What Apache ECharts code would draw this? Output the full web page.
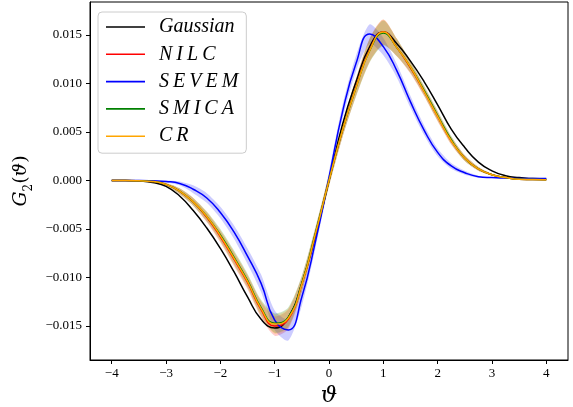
<!DOCTYPE html>
<html><head><meta charset="utf-8">
<script src="https://cdn.jsdelivr.net/npm/echarts@6/dist/echarts.min.js"></script>
<style>html,body{margin:0;padding:0;background:#fff}#c{width:573px;height:407px}</style>
</head><body><div id="c"></div>
<script>
const theta = [-4,-3.75,-3.5,-3.25,-3,-2.75,-2.5,-2.25,-2,-1.75,-1.5,-1.25,-1,-0.75,-0.5,-0.25,0,0.25,0.5,0.75,1,1.25,1.5,1.75,2,2.25,2.5,2.75,3,3.25,3.5,3.75,4];
const gaussian = [0,0,-0.00005,-0.0002,-0.0006,-0.0016,-0.0031,-0.0049,-0.0070,-0.0094,-0.0120,-0.0143,-0.0152,-0.0141,-0.0106,-0.0057,0,0.0058,0.0102,0.0138,0.0153,0.0141,0.0123,0.0102,0.0078,0.0053,0.0034,0.0019,0.0010,0.0005,0.0003,0.0002,0.00015];
const nilc  = [0,0,-0.00003,-0.0001,-0.0004,-0.0011,-0.0022,-0.0038,-0.0058,-0.0081,-0.0105,-0.0133,-0.0150,-0.0143,-0.0107,-0.0055,0,0.0052,0.0097,0.0135,0.0153,0.0137,0.0116,0.0092,0.0066,0.0041,0.0023,0.0012,0.0006,0.0003,0.00012,0.0001,0.00007];
const sevem = [0,0,0,-0.00003,-0.0001,-0.0003,-0.0009,-0.0018,-0.0033,-0.0053,-0.0078,-0.0106,-0.0144,-0.0154,-0.0120,-0.0063,0.0003,0.0071,0.0121,0.0151,0.0138,0.0113,0.0081,0.0052,0.0029,0.0015,0.0008,0.0004,0.0003,0.00025,0.0002,0.0002,0.0002];
const smica = [0,0,-0.00003,-0.0001,-0.0004,-0.0011,-0.0022,-0.0037,-0.0056,-0.0079,-0.0103,-0.0131,-0.0147,-0.0141,-0.0106,-0.0054,0,0.0052,0.0096,0.0134,0.0152,0.0137,0.0117,0.0093,0.0067,0.0042,0.0023,0.0012,0.0006,0.0003,0.00012,0.0001,0.00007];
const cr    = [0,0,-0.00003,-0.0001,-0.0004,-0.0011,-0.0022,-0.0037,-0.0057,-0.0080,-0.0104,-0.0132,-0.0148,-0.0142,-0.0107,-0.0055,0,0.0052,0.0096,0.0134,0.0153,0.0137,0.0117,0.0092,0.0066,0.0041,0.0023,0.0012,0.0006,0.0003,0.00012,0.0001,0.00007];
const nilcErr  = [0,0,0,0.00005,0.00015,0.0003,0.0004,0.0005,0.0006,0.0007,0.0007,0.0008,0.0010,0.0010,0.0008,0.0006,0.0006,0.0007,0.0009,0.0012,0.0013,0.0009,0.0006,0.0005,0.0005,0.0004,0.0003,0.0002,0.0001,0.00005,0,0,0];
const sevemErr = [0,0,0,0.00003,0.0001,0.0002,0.0004,0.0005,0.0006,0.0007,0.0008,0.0009,0.0010,0.0011,0.0009,0.0007,0.0006,0.0007,0.0008,0.0010,0.0009,0.0007,0.0006,0.0005,0.0004,0.0003,0.0002,0.0001,0.00005,0,0,0,0];
const smicaErr = [0,0,0,0.00005,0.00015,0.0003,0.0004,0.0005,0.0006,0.0007,0.0007,0.0008,0.0010,0.0010,0.0008,0.0006,0.0006,0.0007,0.0009,0.0012,0.0013,0.0009,0.0006,0.0005,0.0005,0.0004,0.0003,0.0002,0.0001,0.00005,0,0,0];
const crErr    = [0,0,0,0.00005,0.00015,0.0003,0.0004,0.0005,0.0006,0.0007,0.0007,0.0008,0.0010,0.0010,0.0008,0.0006,0.0006,0.0007,0.0009,0.0012,0.0013,0.0009,0.0006,0.0005,0.0005,0.0004,0.0003,0.0002,0.0001,0.00005,0,0,0];
const xTicks = [-4,-3,-2,-1,0,1,2,3,4];
const yTicks = [-0.015,-0.010,-0.005,0,0.005,0.010,0.015];
const names = ['Gaussian','NILC','SEVEM','SMICA','CR'];
const legendText = {Gaussian:'Gaussian', NILC:'N\u2009I\u2009L\u2009C', SEVEM:'S\u2009E\u2009V\u2009E\u2009M', SMICA:'S\u2009M\u2009I\u2009C\u2009A', CR:'C\u2009R'};

const pairs = v => theta.map((t,i)=>[t, v[i]]);
const SM = 0.5;
function line(name, vals, color){
  return {type:'line', name, data:pairs(vals), smooth:SM, symbol:'none', showSymbol:false,
    lineStyle:{color, width:1.5}, itemStyle:{color}, emphasis:{disabled:true}, silent:true};
}
function band(vals, err, color){
  const rows = theta.map((t,i)=>[t, vals[i]-err[i], vals[i]+err[i]]);
  return {type:'custom', data:rows, silent:true, encode:{x:0, y:[1,2]},
    renderItem:(params, api)=>{
      if (params.dataIndex !== 0) return;
      const up = rows.map(r=>api.coord([r[0], r[2]]));
      const lo = rows.map(r=>api.coord([r[0], r[1]])).reverse();
      return {type:'polygon', shape:{points:up.concat(lo), smooth:0.25},
        style:{fill:color, opacity:0.2}};
    }};
}
const serif = 'Liberation Serif';
const chart = echarts.init(document.getElementById('c'), null, {renderer:'canvas'});
chart.setOption({
  animation:false,
  backgroundColor:'#fff',
  grid:{left:90, right:5, top:2, bottom:47, containLabel:false, outerBoundsMode:'none',
    show:true, borderColor:'#000', borderWidth:1, backgroundColor:'transparent'},
  legend:{
    data:names, orient:'vertical', left:98, top:12, selectedMode:false,
    icon:'rect', itemWidth:39, itemHeight:1.6, itemGap:7.3,
    padding:[5,8,7,8],
    backgroundColor:'rgba(255,255,255,0.8)', borderColor:'#cccccc', borderWidth:1, borderRadius:4,
    formatter: n => legendText[n],
    textStyle:{fontFamily:serif, fontStyle:'italic', fontSize:20, lineHeight:20, color:'#000', padding:[0,0,0,9]}
  },
  xAxis:{type:'value', min:-4.4, max:4.4,
    axisLine:{show:true, onZero:false, lineStyle:{color:'#000', width:1}},
    axisTick:{show:true, length:4, customValues:xTicks, lineStyle:{color:'#000'}},
    axisLabel:{customValues:xTicks, margin:7, fontFamily:serif, fontSize:13, color:'#000',
      formatter:v=>(v<0?'\u2212':'')+Math.abs(v)},
    splitLine:{show:false},
    name:'\u03D1', nameLocation:'middle', nameGap:25,
    nameTextStyle:{fontFamily:'DejaVu Serif', fontStyle:'italic', fontSize:23, color:'#000'}
  },
  yAxis:{type:'value', min:-0.0185, max:0.0184,
    axisLine:{show:true, onZero:false, lineStyle:{color:'#000', width:1}},
    axisTick:{show:true, length:4, customValues:yTicks, lineStyle:{color:'#000'}},
    axisLabel:{customValues:yTicks, margin:8, fontFamily:serif, fontSize:13, color:'#000',
      formatter:v=>(v<0?'\u2212':'')+Math.abs(v).toFixed(3)},
    splitLine:{show:false},
    name:'{i|G}{s|2}{p|(}{i|\u03D1}{p|)}', nameLocation:'middle', nameGap:50, nameRotate:90,
    nameTextStyle:{rich:{
      i:{fontFamily:'DejaVu Serif', fontStyle:'italic', fontSize:19, color:'#000', lineHeight:26},
      s:{fontFamily:'DejaVu Serif', fontSize:12, color:'#000', verticalAlign:'bottom', lineHeight:12},
      p:{fontFamily:'DejaVu Serif', fontSize:19, color:'#000', lineHeight:26}
    }}
  },
  series:[
    line('Gaussian', gaussian, '#000000'),
    band(nilc, nilcErr, '#ff0000'),
    line('NILC', nilc, '#ff0000'),
    band(sevem, sevemErr, '#0000ff'),
    line('SEVEM', sevem, '#0000ff'),
    band(smica, smicaErr, '#008000'),
    line('SMICA', smica, '#008000'),
    band(cr, crErr, '#ffa500'),
    line('CR', cr, '#ffa500')
  ]
});
</script></body></html>
